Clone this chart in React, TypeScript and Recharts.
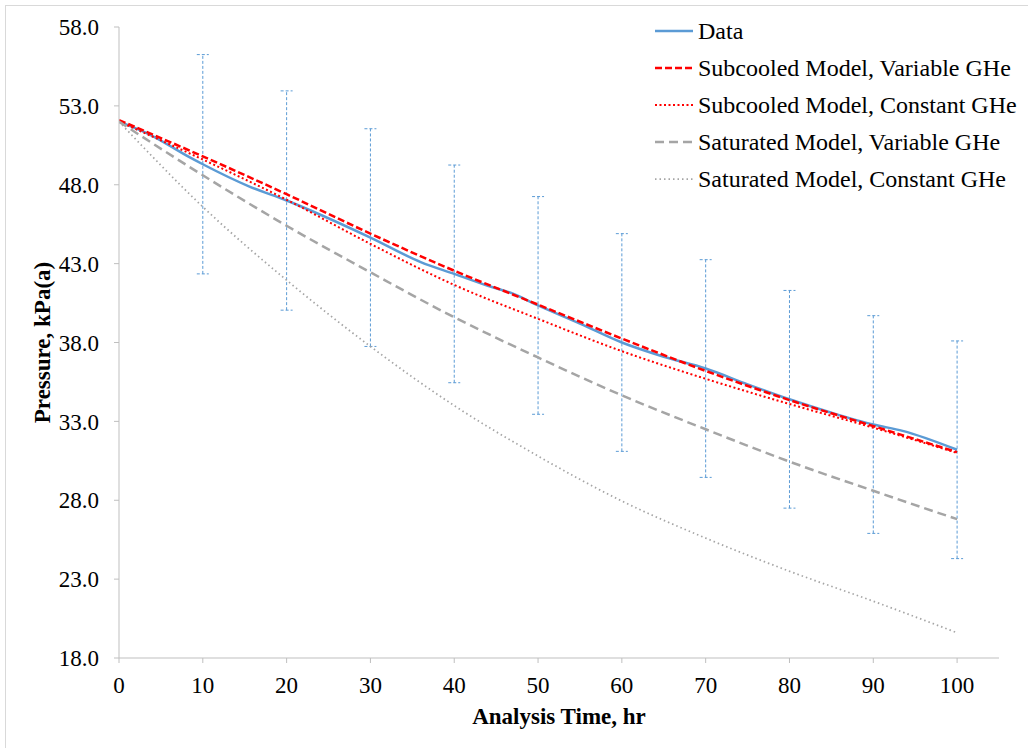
import { LineChart, Line, XAxis, YAxis, ErrorBar, Legend, Label } from 'recharts';

// axis ticks
const xTicks = [0, 10, 20, 30, 40, 50, 60, 70, 80, 90, 100];
const yTicks = [18, 23, 28, 33, 38, 43, 48, 53, 58];

// measured pressure (hr, kPa(a))
const dataTime = [0, 3.6, 8.4, 10, 15.5, 20, 30, 36, 40, 44, 47, 50, 55, 60, 65, 70, 75, 80, 85, 90, 93.5, 100];
const dataPressure = [52.0, 51.2, 49.75, 49.3, 47.9, 47.0, 44.65, 43.1, 42.35, 41.6, 41.1, 40.35, 39.2, 38.0, 37.1, 36.35, 35.35, 34.4, 33.55, 32.8, 32.4, 31.2];

// model curves
const modelTime = [0, 10, 20, 30, 40, 50, 60, 70, 80, 90, 100];
const subcooledVariable = [52.1, 49.8, 47.4, 44.9, 42.55, 40.4, 38.25, 36.2, 34.35, 32.7, 31.05];
const subcooledConstant = [52.0, 49.6, 47.05, 44.25, 41.65, 39.5, 37.45, 35.7, 34.1, 32.6, 31.0];
const saturatedVariable = [52.0, 48.6, 45.4, 42.45, 39.6, 37.05, 34.65, 32.5, 30.45, 28.6, 26.8];
const saturatedConstant = [52.0, 46.6, 41.95, 37.75, 34.0, 30.8, 27.95, 25.6, 23.5, 21.6, 19.6];

// error bars on the data
const errorTime = [10, 20, 30, 40, 50, 60, 70, 80, 90, 100];
const errorCenter = [49.3, 47.0, 44.65, 42.35, 40.35, 38.0, 36.35, 34.4, 32.8, 31.2];
const errorHalf = [6.95, 6.95, 6.9, 6.9, 6.9, 6.9, 6.9, 6.9, 6.9, 6.9];

const FONT = '"Liberation Serif", "Times New Roman", serif';

const toPoints = (xs: number[], ys: number[]) => xs.map((t, i) => ({ t, p: ys[i] }));

const series = [
  { name: 'Data', data: toPoints(dataTime, dataPressure), color: '#5b9bd5', dash: undefined, width: 2.5 },
  { name: 'Subcooled Model, Variable GHe', data: toPoints(modelTime, subcooledVariable), color: '#ff0000', dash: '7 3', width: 2.5 },
  { name: 'Subcooled Model, Constant GHe', data: toPoints(modelTime, subcooledConstant), color: '#ff0000', dash: '2 2.5', width: 2 },
  { name: 'Saturated Model, Variable GHe', data: toPoints(modelTime, saturatedVariable), color: '#a5a5a5', dash: '9 5', width: 2.5 },
  { name: 'Saturated Model, Constant GHe', data: toPoints(modelTime, saturatedConstant), color: '#a5a5a5', dash: '1.5 3', width: 1.75 },
];

const errorData = errorTime.map((t, i) => ({ t, p: errorCenter[i], err: errorHalf[i] }));

const renderLegend = () => (
  <div style={{ fontFamily: FONT, fontSize: 24, color: '#000' }}>
    {series.map((s) => (
      <div key={s.name} style={{ display: 'flex', alignItems: 'center', height: 36.9 }}>
        <svg width={42} height={10} style={{ marginRight: 1 }}>
          <line x1={0} y1={5} x2={38} y2={5} stroke={s.color} strokeWidth={s.width} strokeDasharray={s.dash} />
        </svg>
        <span style={{ whiteSpace: 'nowrap' }}>{s.name}</span>
      </div>
    ))}
  </div>
);

export default function App() {
  return (
    <div style={{ position: 'absolute', left: 0, top: 0, width: 1028, height: 748, background: '#fff' }}>
      <div
        style={{
          position: 'absolute',
          left: 5,
          top: 5,
          width: 1023,
          height: 743,
          borderLeft: '1px solid #d9d9d9',
          borderTop: '1px solid #d9d9d9',
          boxSizing: 'border-box',
        }}
      />
      <div style={{ position: 'absolute', left: 0, top: 0 }}>
        <LineChart width={1028} height={748} margin={{ top: 27, right: 29, bottom: 0, left: 0 }}>
          <XAxis
            type="number"
            dataKey="t"
            domain={[0, 105]}
            ticks={xTicks}
            allowDataOverflow
            stroke="#bfbfbf"
            tickSize={5}
            tickMargin={14}
            height={90}
            tick={{ fill: '#000', fontSize: 23, fontFamily: FONT }}
          >
            <Label
              value="Analysis Time, hr"
              position="insideBottom"
              offset={24}
              style={{ fill: '#000', fontSize: 23, fontWeight: 'bold', fontFamily: FONT }}
            />
          </XAxis>
          <YAxis
            type="number"
            dataKey="p"
            domain={[18, 58]}
            ticks={yTicks}
            interval={0}
            width={119}
            stroke="#bfbfbf"
            tickSize={5}
            tickMargin={15}
            tickFormatter={(v: number) => v.toFixed(1)}
            tick={{ fill: '#000', fontSize: 23, fontFamily: FONT }}
          >
            <Label
              value="Pressure, kPa(a)"
              angle={-90}
              position="insideLeft"
              offset={42}
              style={{ fill: '#000', fontSize: 23, fontWeight: 'bold', fontFamily: FONT, textAnchor: 'middle' }}
            />
          </YAxis>
          <Legend
            layout="vertical"
            align="center"
            verticalAlign="middle"
            content={renderLegend}
            wrapperStyle={{ left: 655, top: 13, width: 'auto', height: 'auto' }}
          />
          <Line
            data={errorData}
            dataKey="p"
            stroke="none"
            dot={false}
            activeDot={false}
            legendType="none"
            isAnimationActive={false}
          >
            <ErrorBar
              dataKey="err"
              direction="y"
              width={6}
              stroke="#5b9bd5"
              strokeWidth={1}
              strokeDasharray="3 2"
              isAnimationActive={false}
            />
          </Line>
          {series.map((s) => (
            <Line
              key={s.name}
              data={s.data}
              dataKey="p"
              name={s.name}
              type="monotone"
              stroke={s.color}
              strokeWidth={s.width}
              strokeDasharray={s.dash}
              dot={false}
              activeDot={false}
              isAnimationActive={false}
            />
          ))}
        </LineChart>
      </div>
    </div>
  );
}
